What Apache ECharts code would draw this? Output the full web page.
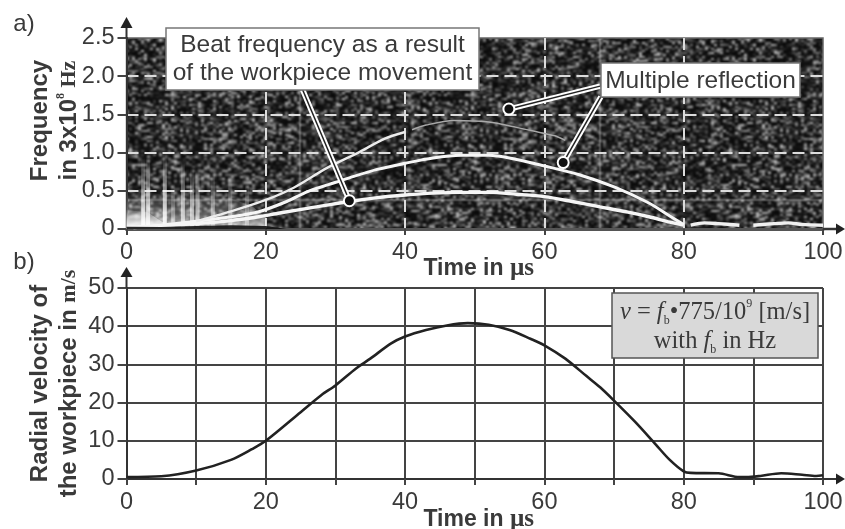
<!DOCTYPE html>
<html><head><meta charset="utf-8">
<style>html,body{margin:0;padding:0;background:#fff}#c{width:845px;height:529px}</style>
<script src="https://cdn.jsdelivr.net/npm/echarts@6/dist/echarts.min.js"></script>
</head><body><div id="c"></div>
<script>
// ---- data ----
const lowerBeat = [[1,0.02],[5,0.04],[10,0.07],[15,0.11],[19,0.16],[22,0.21],[26,0.27],[32,0.36],[36,0.41],[40,0.445],[44,0.47],[48,0.48],[52,0.48],[56,0.455],[60,0.423],[64,0.36],[68,0.29],[72,0.22],[75,0.16],[78,0.09],[80,0.05]];
const middleBeat = [[1,0.02],[5,0.05],[10,0.1],[15,0.16],[19,0.226],[23,0.36],[26,0.49],[29,0.58],[32,0.67],[36,0.78],[40,0.86],[44,0.93],[48,0.965],[52,0.965],[56,0.91],[60,0.825],[65,0.71],[70,0.55],[75,0.34],[78,0.17],[80,0.06]];
const upperBeatRise = [[10,0.1],[15,0.23],[20,0.38],[24,0.54],[28.8,0.8],[33.5,1.01],[37,1.18],[40,1.27]];
const upperBeatFaint = [[41,1.3],[43,1.36],[47,1.42],[52,1.4],[56,1.33],[60,1.25],[61.5,1.22],[63,1.16]];
const residualA = [[81,0.05],[83,0.08],[85,0.07],[88,0.05]];
const residualB = [[90,0.05],[93,0.07],[95,0.08],[97,0.06],[100,0.05]];
const streakTimes = [2.4,3.1,5.5,6.7,8.1,9.4,10.2,12.4,14.9,17.3];
const streakTops = [0.95,0.95,1.0,0.6,0.9,0.8,0.8,0.75,0.7,0.6];
const streakStrength = [0.9,0.85,0.95,0.5,0.75,0.7,0.7,0.55,0.55,0.45];
const smearEnvelope = [[0,0.5],[2,0.5],[5,0.45],[10,0.45],[15,0.4],[18,0.3],[20,0.15]];
const leftGlow = [[0,0.25],[3,0.22],[5,0.1],[7,0.02]];
const baseWedge = [[0,0.03],[5,0.025],[10,0.04],[15,0.05],[20,0.04],[23,0]];
const velocity = [[0,0.5],[5,0.7],[10,2.2],[15,5],[18,7.8],[20,10],[25,17.5],[28,22],[30,24.5],[33,29],[35,31.5],[38,35.5],[40,37.3],[43,39],[46,40.2],[49,40.8],[52,40.4],[55,39],[58,36.7],[60,35],[63,31.5],[66,27],[68,24],[70,20.5],[73,15],[76,9],[78,5],[80,2],[81,1.6],[85,1.5],[88,0.5],[89,0.5],[91,0.8],[94,1.5],[97,1.1],[99,0.8],[100,1]];
const leaderBeat = [[25.3,1.82],[32,0.37]];
const leaderReflUpper = [[68,1.87],[54.9,1.57]];
const leaderReflLower = [[68.1,1.73],[62.7,0.87]];
const leaderDots = [[32,0.37],[54.9,1.57],[62.7,0.87]];

// decorative speckle tile for the spectrogram's background (styling only, not data)
function speckleTile(){
  const w=300,h=200,raw=document.createElement('canvas');raw.width=w;raw.height=h;
  const g=raw.getContext('2d');let s=12345;
  const next=()=>{s=(s*1103515245+12345)&0x7fffffff;return s/0x7fffffff;};
  g.fillStyle='#121212';g.fillRect(0,0,w,h);
  for(let y=0;y<h;y+=2){for(let x=0;x<w;x+=3){
    const r=next();const c=Math.round(Math.pow(r,3)*185+10);
    const bw=3+(next()>0.7?3:0);
    g.fillStyle='rgb('+c+','+c+','+c+')';g.fillRect(x,y,bw,2);
    if(x+bw>w)g.fillRect(x-w,y,bw,2);
  }}
  const out=document.createElement('canvas');out.width=w;out.height=h;
  const o=out.getContext('2d');o.filter='blur(0.8px)';
  for(const dx of [-w,0,w])for(const dy of [-h,0,h])o.drawImage(raw,dx,dy);
  return out;
}

const sans='"Liberation Sans",Arial,sans-serif', serif='"Liberation Serif","Times New Roman",serif';
const ink='#3a3a3a';
const L=126.5,R=823,T1=38,B1=229,T2=288,B2=479;
const chart=echarts.init(document.getElementById('c'),null,{renderer:'canvas'});
const timeName='{a|Time in }{b|µs}';
const timeRich={a:{fontFamily:sans,fontWeight:'bold',fontSize:23,color:ink},b:{fontFamily:serif,fontWeight:'bold',fontSize:25,color:ink}};
const nameSans={fontFamily:sans,fontWeight:'bold',fontSize:24,color:ink,lineHeight:29};
const nameSerif={fontFamily:serif,fontWeight:'bold',fontSize:22,color:ink,lineHeight:29};
const labelStyle={fontFamily:sans,fontSize:23.5,color:ink};
function line(data,xi,color,width,extra){return Object.assign({type:'line',data,xAxisIndex:xi,yAxisIndex:xi,symbol:'none',smooth:0.3,silent:true,lineStyle:{color,width}},extra||{});}
function stub(x1,y1,x2,y2,w){return {type:'line',z:90,silent:true,shape:{x1,y1,x2,y2},style:{stroke:'#333',lineWidth:w||2}};}
function tri(pts){return {type:'polygon',z:91,silent:true,shape:{points:pts},style:{fill:'#222'}};}
function box(x,y,w,h,fill,stroke){return {type:'rect',z:95,silent:true,shape:{x,y,width:w,height:h},style:{fill,stroke,lineWidth:1.5}};}
function label(x,y,text,font,extra){return {type:'text',z:96,silent:true,x,y,style:Object.assign({text,font,fill:ink,align:'center',verticalAlign:'middle'},extra||{})};}

const streakData=streakTimes.map((t,i)=>({value:[t,streakTops[i]],itemStyle:{opacity:streakStrength[i]}}));
const fadeUp={type:'linear',x:0,y:0,x2:0,y2:1,colorStops:[{offset:0,color:'rgba(255,255,255,0)'},{offset:0.3,color:'rgba(255,255,255,0.35)'},{offset:0.6,color:'rgba(255,255,255,0.7)'},{offset:1,color:'rgba(255,255,255,1)'}]};

chart.setOption({
  animation:false,backgroundColor:'#fff',
  grid:[
    {left:L,right:845-R,top:T1,height:B1-T1,outerBoundsMode:'none',show:true,backgroundColor:{image:speckleTile(),repeat:'repeat'},borderColor:'#666',borderWidth:1.5},
    {left:L,right:845-R,top:T2,height:B2-T2,outerBoundsMode:'none'}
  ],
  xAxis:[
    {type:'value',gridIndex:0,min:0,max:100,interval:20,name:timeName,nameLocation:'middle',nameGap:27,nameMoveOverlap:false,
     nameTextStyle:{rich:timeRich,padding:[0,0,0,8]},
     axisLine:{show:true,onZero:false,lineStyle:{color:'#555',width:3}},axisTick:{show:true,length:6,lineStyle:{color:'#444',width:2}},
     axisLabel:Object.assign({margin:12,showMinLabel:true,showMaxLabel:true},labelStyle),
     splitLine:{show:true,showMinLine:false,showMaxLine:false,lineStyle:{color:'#dcdcdc',width:2,type:[12,6]}}},
    {type:'value',gridIndex:1,min:0,max:100,interval:10,name:timeName,nameLocation:'middle',nameGap:28,nameMoveOverlap:false,
     nameTextStyle:{rich:timeRich,padding:[0,0,0,8]},
     axisLine:{show:true,onZero:false,lineStyle:{color:'#333',width:2}},axisTick:{show:true,length:6,lineStyle:{color:'#444',width:2}},
     axisLabel:Object.assign({margin:12,formatter:v=>v%20===0?String(v):''},labelStyle),
     splitLine:{show:true,lineStyle:{color:'#444',width:2}}}
  ],
  yAxis:[
    {type:'value',gridIndex:0,min:0,max:2.5,interval:0.5,
     name:'{f|Frequency}\n{f|in 3x10}{s|8}{h| Hz}',nameLocation:'middle',nameRotate:90,nameGap:43,nameMoveOverlap:false,
     nameTextStyle:{padding:[0,0,0,26],rich:{f:nameSans,s:{fontFamily:serif,fontWeight:'bold',fontSize:12,color:ink,verticalAlign:'top',lineHeight:29},h:nameSerif}},
     axisLine:{show:true,onZero:false,lineStyle:{color:'#333',width:2}},axisTick:{show:true,length:9,lineStyle:{color:'#444',width:2}},
     axisLabel:Object.assign({margin:12,formatter:v=>v===0?'0':v.toFixed(1)},labelStyle),
     splitLine:{show:true,showMinLine:false,showMaxLine:false,lineStyle:{color:'#dcdcdc',width:2,type:[12,6]}}},
    {type:'value',gridIndex:1,min:0,max:50,interval:10,
     name:'{f|Radial velocity of}\n{f|the workpiece in }{h|m/s}',nameLocation:'middle',nameRotate:90,nameGap:43,nameMoveOverlap:false,
     nameTextStyle:{rich:{f:nameSans,h:nameSerif}},
     axisLine:{show:true,onZero:false,lineStyle:{color:'#333',width:2}},axisTick:{show:true,length:9,lineStyle:{color:'#444',width:2}},
     axisLabel:Object.assign({margin:12},labelStyle),
     splitLine:{show:true,lineStyle:{color:'#444',width:2}}}
  ],
  series:[
    line(smearEnvelope,0,'rgba(0,0,0,0)',0,{smooth:false,z:2,areaStyle:{color:{type:'linear',x:0,y:0,x2:0,y2:1,colorStops:[{offset:0,color:'rgba(255,255,255,0)'},{offset:0.6,color:'rgba(255,255,255,0.3)'},{offset:1,color:'rgba(255,255,255,0.7)'}]},opacity:1}}),
    line(leftGlow,0,'rgba(0,0,0,0)',0,{smooth:false,z:2,areaStyle:{color:{type:'linear',x:0,y:0,x2:0,y2:1,colorStops:[{offset:0,color:'rgba(255,255,255,0.1)'},{offset:1,color:'rgba(255,255,255,0.95)'}]},opacity:1}}),
    {type:'bar',xAxisIndex:0,yAxisIndex:0,data:streakData,barWidth:4,z:2,silent:true,itemStyle:{color:fadeUp}},
    line(lowerBeat,0,'#f6f6f6',3.4,{z:4}),
    line(middleBeat,0,'#f6f6f6',3,{z:4}),
    line(upperBeatRise,0,'#ececec',2.4,{z:4}),
    line(upperBeatFaint,0,'#a8a8a8',1.5,{z:4}),
    line(residualA,0,'#f0f0f0',3.4,{z:4}),
    line(residualB,0,'#f0f0f0',3.4,{z:4}),
    line(baseWedge,0,'rgba(0,0,0,0)',0,{smooth:false,z:5,areaStyle:{color:'#111',opacity:0.9}}),
    line(leaderBeat,0,'#fff',5.5,{smooth:false,z:6}),line(leaderBeat,0,'#222',1.5,{smooth:false,z:7}),
    line(leaderReflUpper,0,'#fff',5.5,{smooth:false,z:6}),line(leaderReflUpper,0,'#222',1.5,{smooth:false,z:7}),
    line(leaderReflLower,0,'#fff',5.5,{smooth:false,z:6}),line(leaderReflLower,0,'#222',1.5,{smooth:false,z:7}),
    {type:'scatter',xAxisIndex:0,yAxisIndex:0,data:leaderDots,symbolSize:11,z:8,silent:true,itemStyle:{color:'#111',borderColor:'#fff',borderWidth:2,opacity:1}},
    line(velocity,1,'#222',2.6,{z:5})
  ],
  graphic:{elements:[
    stub(L,T1,L,28),tri([[L,17],[L-6,28],[L+6,28]]),
    stub(R,B1,837,B1,2.5),tri([[845,B1],[836,B1-5.5],[836,B1+5.5]]),
    stub(L,T2,L,277),tri([[L,267],[L-6,277],[L+6,277]]),
    stub(R,B2,837,B2,2),tri([[845,B2],[836,B2-5.5],[836,B2+5.5]]),
    label(24,24,'a)','24px '+sans),
    label(24,262,'b)','24px '+sans),
    box(166,28,313,62,'#fff','#777'),
    label(322.5,45,'Beat frequency as a result','24.5px '+sans),
    label(322.5,73,'of the workpiece movement','24.5px '+sans),
    box(601,63,199,34,'#fff','#777'),
    label(700.5,81,'Multiple reflection','24.5px '+sans),
    box(612,293,206,65,'#d9d9d9','#555'),
    {type:'text',z:96,silent:true,x:715,y:327,style:{
      text:'{i|v} = {i|f}{sub|b}{n|•}775/10{sup|9} [m/s]\nwith {i|f}{sub|b} in Hz',
      font:'24.5px '+serif,fill:ink,align:'center',verticalAlign:'middle',lineHeight:29,
      rich:{i:{font:'italic 24.5px '+serif,fill:ink,lineHeight:29},sub:{font:'12px '+serif,fill:ink,verticalAlign:'bottom',lineHeight:29},sup:{font:'12px '+serif,fill:ink,verticalAlign:'top',lineHeight:29},n:{font:'24.5px '+serif,fill:ink,lineHeight:29}}}}
  ]}
});
</script></body></html>
